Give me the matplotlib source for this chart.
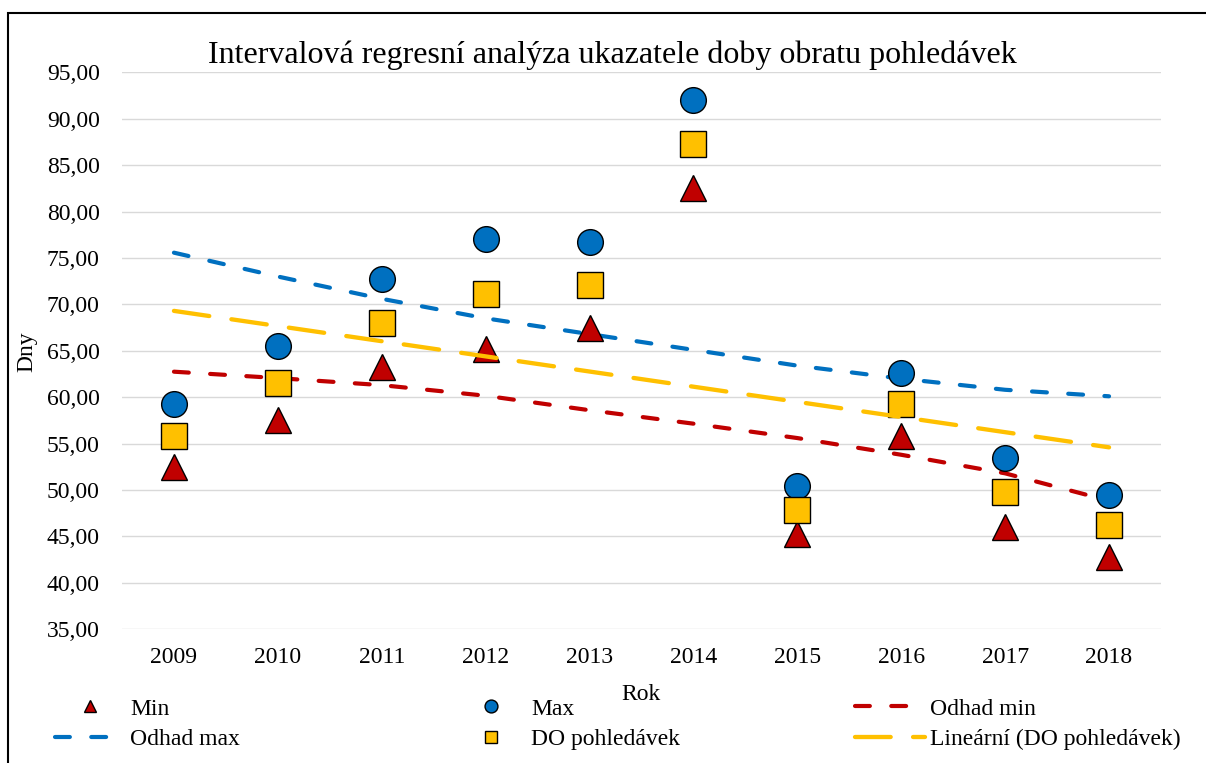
import matplotlib
matplotlib.use("Agg")
import matplotlib.pyplot as plt
from matplotlib.patches import Rectangle

plt.rcParams['font.family'] = ['Liberation Serif', 'DejaVu Serif']
plt.rcParams['lines.scale_dashes'] = False

# ---- data ----
years = [2009, 2010, 2011, 2012, 2013, 2014, 2015, 2016, 2017, 2018]
min_vals = [52.5, 57.5, 63.25, 65.15, 67.45, 82.55, 45.25, 55.85, 45.97, 42.81]
max_vals = [59.22, 65.51, 72.69, 77.0, 76.76, 92.0, 50.42, 62.64, 53.48, 49.42]
do_vals = [55.8, 61.56, 67.95, 71.15, 72.08, 87.3, 47.83, 59.3, 49.78, 46.19]
odhad_min = [62.75, 62.06, 61.3, 60.16, 58.6, 57.15, 55.6, 53.8, 51.8, 48.85]
odhad_max = [75.57, 73.0, 70.6, 68.5, 66.8, 65.1, 63.4, 62.0, 60.8, 60.1]
trend_years = [2009, 2018]
trend_vals = [69.3, 54.6]
y_ticks = [35, 40, 45, 50, 55, 60, 65, 70, 75, 80, 85, 90, 95]

title = "Intervalová regresní analýza ukazatele doby obratu pohledávek"

W, H = 1206, 763
fig = plt.figure(figsize=(W / 100, H / 100), dpi=100)

def fx(px):
    return px / W

def fy(py):
    return 1 - py / H

# outer chart border (right/bottom edges are off-canvas)
fig.patches.append(Rectangle((fx(8), fy(790)), fx(1230) - fx(8), fy(12.7) - fy(790),
                             transform=fig.transFigure, fill=False,
                             edgecolor='black', linewidth=1.5, zorder=0))

ax = fig.add_axes([fx(122), fy(629.3), fx(1161) - fx(122), fy(72.3) - fy(629.3)])
ax.set_xlim(2008.5, 2018.5)
ax.set_ylim(35, 95)
for s in ax.spines.values():
    s.set_visible(False)
ax.set_yticks(y_ticks)
ax.set_yticklabels([f"{v:.2f}".replace('.', ',') for v in y_ticks])
ax.set_xticks(years)
ax.set_xticklabels([str(y) for y in years])
ax.tick_params(axis='both', length=0, labelsize=17)
ax.tick_params(axis='y', pad=16)
ax.tick_params(axis='x', pad=12.5)
ax.yaxis.grid(True, color='#D9D9D9', linewidth=1.0)
ax.set_axisbelow(True)

blue = '#0070C0'
red = '#C00000'
yellow = '#FFC000'
ms = 18.5

l_omin, = ax.plot(years, odhad_min, color=red, lw=3.0, dashes=(10.7, 15.4),
                  dash_capstyle='round', zorder=2, label='Odhad min')
l_omax, = ax.plot(years, odhad_max, color=blue, lw=3.0, dashes=(10.7, 15.4),
                  dash_capstyle='round', zorder=2, label='Odhad max')
m_min, = ax.plot(years, min_vals, ls='none', marker='^', ms=ms, mfc=red, mec='black',
                 mew=1.0, zorder=3, label='Min')
m_max, = ax.plot(years, max_vals, ls='none', marker='o', ms=ms, mfc=blue, mec='black',
                 mew=1.0, zorder=3, label='Max')
m_do, = ax.plot(years, do_vals, ls='none', marker='s', ms=ms, mfc=yellow, mec='black',
                mew=1.0, zorder=3, label='DO pohledávek')
l_tr, = ax.plot(trend_years, trend_vals, color=yellow, lw=3.1, dashes=(25.7, 16.1),
                dash_capstyle='round', zorder=4, label='Lineární (DO pohledávek)')

fig.text(fx(612.5), fy(63), title, ha='center', va='baseline', fontsize=23)
fig.text(fx(27), fy(352), 'Dny', rotation=90, ha='center', va='center', fontsize=17)
fig.text(fx(641), fy(694), 'Rok', ha='center', va='center', fontsize=17)

cols = [
    ([m_min, l_omax], 55),
    ([m_max, m_do], 456),
    ([l_omin, l_tr], 855),
]
for handles, x0 in cols:
    leg = fig.legend(handles=handles, labels=[h.get_label() for h in handles],
                     loc='center left', bbox_to_anchor=(fx(x0), fy(724)),
                     frameon=False, fontsize=17, borderpad=0, borderaxespad=0,
                     handlelength=2.97, handletextpad=0.21, labelspacing=0.36,
                     markerscale=0.5)

fig.savefig('out.png', dpi=100)
